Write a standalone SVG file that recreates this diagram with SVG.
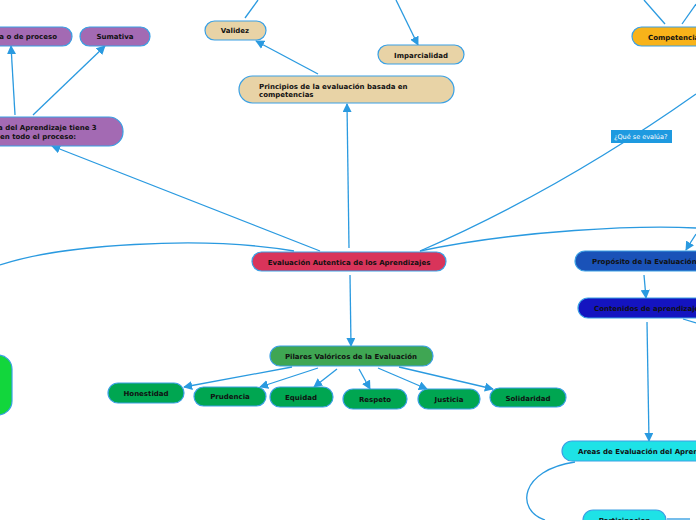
<svg xmlns="http://www.w3.org/2000/svg" width="696" height="520" viewBox="0 0 696 520">
<defs>
<marker id="a" viewBox="0 0 10 10" refX="9" refY="5" markerWidth="7" markerHeight="7" orient="auto"><path d="M0,0L10,5L0,10z" fill="#2a9ae0"/></marker>
<style>
.c{fill:none;stroke:#2a9ae0;stroke-width:1.3}
.n{stroke:#3aa0e4;stroke-width:1.2}
text{font-family:"DejaVu Sans",Verdana,sans-serif;font-size:7px;font-weight:bold;fill:#111}
</style>
</defs>
<rect width="696" height="520" fill="#fff"/>
<g id="connectors">
<path class="c" d="M245,18L258,0"/>
<path class="c" d="M396,0L418,45" marker-end="url(#a)"/>
<path class="c" d="M644,0L665,24"/>
<path class="c" d="M682,24L696,4"/>
<path class="c" d="M318,74L256,41" marker-end="url(#a)"/>
<path class="c" d="M15,115L11,46" marker-end="url(#a)"/>
<path class="c" d="M33,115L105,46" marker-end="url(#a)"/>
<path class="c" d="M320,251L52,146" marker-end="url(#a)"/>
<path class="c" d="M349,248L347,104" marker-end="url(#a)"/>
<path class="c" d="M420,251Q560,190 696,94"/>
<path class="c" d="M294,251C200,235 60,245 0,265"/>
<path class="c" d="M420,251C520,230 640,225 696,228"/>
<path class="c" d="M696,234Q690,243 686,250" marker-end="url(#a)"/>
<path class="c" d="M350,275L351,346" marker-end="url(#a)"/>
<path class="c" d="M292,367L184,387" marker-end="url(#a)"/>
<path class="c" d="M318,368L260,387" marker-end="url(#a)"/>
<path class="c" d="M337,369L314,387" marker-end="url(#a)"/>
<path class="c" d="M359,369L370,389" marker-end="url(#a)"/>
<path class="c" d="M378,368L427,389" marker-end="url(#a)"/>
<path class="c" d="M399,367L493,389" marker-end="url(#a)"/>
<path class="c" d="M644,275L646,298" marker-end="url(#a)"/>
<path class="c" d="M683,319L696,323"/>
<path class="c" d="M647,322L649,441" marker-end="url(#a)"/>
<path class="c" d="M575,462C520,470 515,510 545,520"/>
<path class="c" d="M667,519L690,519"/>
</g>
<g id="formativa"><rect class="n" x="-12" y="27" width="84" height="19" rx="9.5" fill="#a36ab3"/><text x="57" y="39" text-anchor="end">Formativa o de proceso</text></g>
<g id="sumativa"><rect class="n" x="80" y="27" width="70" height="19" rx="9.5" fill="#a36ab3"/><text x="115" y="39" text-anchor="middle">Sumativa</text></g>
<g id="momentos"><rect class="n" x="-30" y="117" width="153" height="29" rx="14" fill="#a36ab3"/><text x="-2" y="130">a del Aprendizaje tiene 3</text><text x="0" y="139">en todo el proceso:</text></g>
<g id="validez"><rect class="n" x="205" y="21" width="61" height="19" rx="9.5" fill="#e8d3a6"/><text x="235" y="33" text-anchor="middle">Validez</text></g>
<g id="imparcialidad"><rect class="n" x="378" y="45" width="86" height="19" rx="9.5" fill="#e8d3a6"/><text x="421" y="58" text-anchor="middle">Imparcialidad</text></g>
<g id="principios"><rect class="n" x="239" y="76" width="215" height="27" rx="13.5" fill="#e8d3a6"/><text x="259" y="89">Principios de la evaluación basada en</text><text x="259" y="97">competencias</text></g>
<g id="competencias"><rect class="n" x="632" y="27" width="80" height="19" rx="9.5" fill="#f8b31a"/><text x="648" y="40">Competencias</text></g>
<g id="quelabel"><rect x="611" y="130" width="61" height="13" fill="#1e9ae0"/><text x="614" y="139" style="font-weight:normal;fill:#fff;font-size:6.5px">¿Qué se evalúa?</text></g>
<g id="central"><rect class="n" x="252" y="252" width="194" height="19" rx="9.5" fill="#d9345a"/><text x="349" y="265" text-anchor="middle">Evaluación Autentica de los Aprendizajes</text></g>
<g id="pilares"><rect class="n" x="270" y="346" width="163" height="20" rx="10" fill="#3fa653"/><text x="351" y="359" text-anchor="middle">Pilares Valóricos de la Evaluación</text></g>
<g id="honestidad"><rect class="n" x="108" y="383" width="76" height="20" rx="10" fill="#00a651"/><text x="146" y="396" text-anchor="middle">Honestidad</text></g>
<g id="prudencia"><rect class="n" x="194" y="387" width="72" height="19" rx="9.5" fill="#00a651"/><text x="230" y="399" text-anchor="middle">Prudencia</text></g>
<g id="equidad"><rect class="n" x="270" y="387" width="63" height="20" rx="10" fill="#00a651"/><text x="301" y="400" text-anchor="middle">Equidad</text></g>
<g id="respeto"><rect class="n" x="343" y="389" width="64" height="20" rx="10" fill="#00a651"/><text x="375" y="402" text-anchor="middle">Respeto</text></g>
<g id="justicia"><rect class="n" x="418" y="389" width="62" height="20" rx="10" fill="#00a651"/><text x="449" y="402" text-anchor="middle">Justicia</text></g>
<g id="solidaridad"><rect class="n" x="490" y="388" width="76" height="19" rx="9.5" fill="#00a651"/><text x="528" y="401" text-anchor="middle">Solidaridad</text></g>
<g id="greenblob"><rect class="n" x="-30" y="355" width="42" height="60" rx="14" fill="#12d63c"/></g>
<g id="proposito"><rect class="n" x="575" y="251" width="140" height="20" rx="10" fill="#1a52b8"/><text x="592" y="264">Propósito de la Evaluación</text></g>
<g id="contenidos"><rect class="n" x="578" y="298" width="140" height="20" rx="10" fill="#1414c0"/><text x="594" y="311">Contenidos de aprendizaje</text></g>
<g id="areas"><rect class="n" x="562" y="441" width="150" height="20" rx="10" fill="#1ee2e6"/><text x="578" y="454">Areas de Evaluación del Aprendizaje</text></g>
<g id="participacion"><rect class="n" x="583" y="510" width="83" height="20" rx="10" fill="#1ee2e6"/><text x="624.5" y="523" text-anchor="middle">Participacion</text></g>
</svg>
